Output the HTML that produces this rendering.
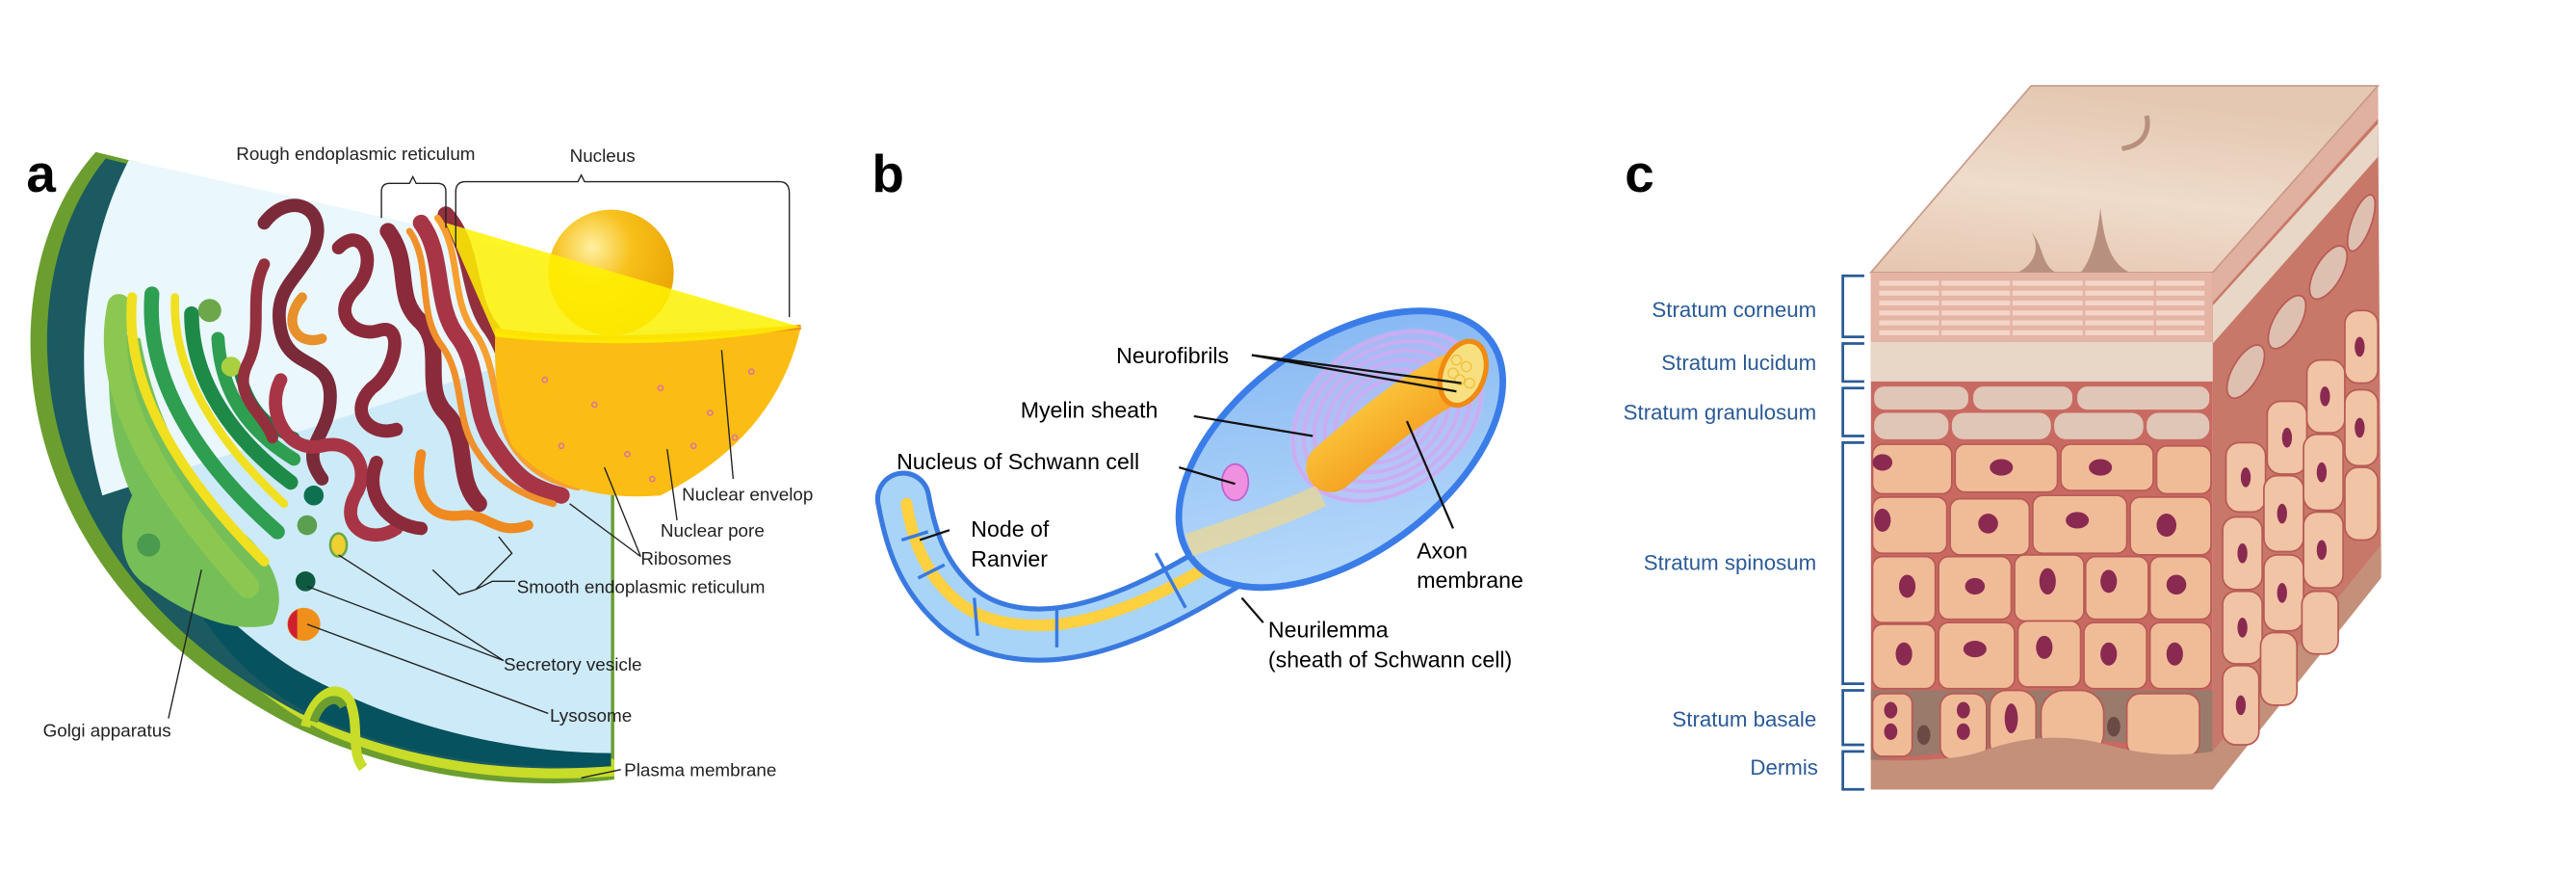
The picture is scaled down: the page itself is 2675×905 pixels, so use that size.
<!DOCTYPE html>
<html><head><meta charset="utf-8"><style>
html,body{margin:0;padding:0;background:#fff;width:2675px;height:905px;overflow:hidden}
svg{display:block}
text{font-family:"Liberation Sans",sans-serif}
</style></head><body>
<svg width="2675" height="905" viewBox="0 0 1560 528" preserveAspectRatio="none" xmlns="http://www.w3.org/2000/svg">
<defs>
<linearGradient id="axon" x1="0" y1="0" x2="1" y2="1"><stop offset="0" stop-color="#ffd84a"/><stop offset="1" stop-color="#f08a10"/></linearGradient>
<radialGradient id="nucleolus" cx="0.35" cy="0.3" r="0.8"><stop offset="0" stop-color="#fff0a0"/><stop offset="0.4" stop-color="#f7c01a"/><stop offset="1" stop-color="#e8a000"/></radialGradient>
<linearGradient id="topface" x1="0" y1="1" x2="0.3" y2="0"><stop offset="0" stop-color="#e6c6b0"/><stop offset="0.5" stop-color="#efdccb"/><stop offset="1" stop-color="#e4c8b2"/></linearGradient>
<linearGradient id="sheath" x1="0" y1="1" x2="1" y2="0"><stop offset="0" stop-color="#bfe0fb"/><stop offset="1" stop-color="#7fb2f2"/></linearGradient>
</defs>

<!-- ================= PANEL A ================= -->
<text x="16" y="116" font-size="32" font-weight="bold" fill="#000">a</text>
<path d="M58,92 C-8,165 -6,345 178,440 C250,474 320,478 372,472 L372,290 L485,198 Z" fill="#6b9e2f"/>
<path d="M100,340 C130,400 160,425 200,445 C260,470 320,474 372,470 L372,460 L120,330 Z" fill="#c8dc2a"/>
<path d="M64,96 C4,170 6,340 182,432 C252,464 318,468 370,464 L370,290 L485,198 Z" fill="#1a5a60"/>
<path d="M100,335 C130,395 160,420 200,438 C260,462 320,466 370,464 L370,300 Z" fill="#06525e"/>
<path d="M78,97 C36,180 48,320 178,405 C240,440 310,456 370,456 L370,290 L485,198 Z" fill="#cdeaf8"/>
<path d="M78,97 C50,150 42,230 62,300 L370,200 L485,198 L270,140 Z" fill="#eaf7fd"/>
<path d="M185,440 C190,420 205,412 212,425 C218,440 212,455 220,465" fill="none" stroke="#c8dc2a" stroke-width="6"/>
<path d="M190,437 C194,424 204,420 208,428" fill="none" stroke="#6b9e2f" stroke-width="5"/>
<!-- Golgi -->
<path d="M68,200 C62,240 70,280 80,300 C70,320 72,345 90,355 C110,370 140,385 165,378 C175,360 165,340 150,325 C120,300 95,260 85,205 Z" fill="#76bf58"/>
<g fill="none" stroke-linecap="round">
<path d="M72,185 C60,240 100,300 150,355" stroke="#8cc850" stroke-width="14"/>
<path d="M80,180 C75,235 110,290 160,340" stroke="#f0e020" stroke-width="6"/>
<path d="M92,178 C88,230 120,280 168,322" stroke="#2e9e50" stroke-width="9"/>
<path d="M106,180 C104,225 132,268 172,305" stroke="#f0e020" stroke-width="5"/>
<path d="M116,190 C116,230 140,265 176,292" stroke="#1e8a48" stroke-width="9"/>
<path d="M132,205 C134,240 152,262 178,278" stroke="#2e9e50" stroke-width="8"/>
<path d="M145,225 C150,245 160,258 178,265" stroke="#1a7a45" stroke-width="7"/>
</g>
<circle cx="127" cy="188" r="7" fill="#6aa84a"/>
<circle cx="140" cy="222" r="6" fill="#a8d040"/>
<circle cx="90" cy="330" r="7" fill="#4a9a50"/>
<circle cx="190" cy="300" r="6" fill="#0d7050"/>
<circle cx="186" cy="318" r="6" fill="#5aa050"/>
<!-- ER -->
<g fill="none" stroke-linecap="round" stroke-linejoin="round" stroke-width="8">
<path d="M160,135 C175,115 200,125 190,150 C180,170 165,175 170,200 C175,225 200,215 200,240 C200,265 180,270 195,290" stroke="#7a2a38"/>
<path d="M205,150 C220,135 230,160 215,175 C200,190 215,205 230,200 C245,195 240,225 225,235 C210,250 225,265 240,260" stroke="#8b2a3a"/>
<path d="M170,230 C160,250 175,275 195,270 C215,265 225,285 215,300 C205,320 225,330 240,320" stroke="#a83545"/>
<path d="M235,140 C250,160 238,180 255,195 C270,210 255,235 270,250 C285,265 275,290 290,305" stroke="#8b2a3a" stroke-width="10"/>
<path d="M255,135 C270,155 262,185 278,205 C292,225 285,250 300,270 C312,288 320,295 340,300" stroke="#a83545" stroke-width="10"/>
<path d="M270,130 C288,150 282,180 298,200 C312,220 310,250 325,270 C335,283 348,290 360,290" stroke="#93303e" stroke-width="10"/>
<path d="M248,140 C262,160 252,190 268,210 C282,230 275,255 290,275 C300,290 315,300 335,305" stroke="#f0902a" stroke-width="4"/>
<path d="M265,132 C280,152 272,182 288,202 C302,222 298,252 312,272 C322,286 335,292 350,295" stroke="#f7a030" stroke-width="4"/>
<path d="M183,180 C170,195 180,210 195,205" stroke="#e8902a" stroke-width="6"/>
<path d="M255,275 C250,300 260,315 280,312 C295,310 300,325 320,318" stroke="#ee8a20" stroke-width="6"/>
<path d="M228,280 C220,300 235,318 255,320" stroke="#8b2a3a"/>
<path d="M160,160 C150,180 160,200 150,220 C140,240 160,250 165,265" stroke="#93303e" stroke-width="7"/>
</g>
<!-- nucleus -->
<path d="M300,200 Q360,210 485,198 Q470,265 400,300 Q340,305 310,270 Q298,240 300,200 Z" fill="#fbbd13"/>
<path d="M300,200 Q360,210 485,198" fill="none" stroke="#f0901a" stroke-width="3"/>
<circle cx="370" cy="165" r="38" fill="url(#nucleolus)"/>
<path d="M270,135 L485,198 Q400,214 300,204 Z" fill="#fff200" opacity="0.85"/>
<g fill="none" stroke="#e07890" stroke-width="1">
<circle cx="330" cy="230" r="1.5"/><circle cx="360" cy="245" r="1.5"/><circle cx="400" cy="235" r="1.5"/><circle cx="430" cy="250" r="1.5"/><circle cx="455" cy="225" r="1.5"/><circle cx="340" cy="270" r="1.5"/><circle cx="380" cy="275" r="1.5"/><circle cx="420" cy="270" r="1.5"/><circle cx="445" cy="265" r="1.5"/><circle cx="395" cy="290" r="1.5"/>
</g>
<ellipse cx="205" cy="330" rx="5" ry="7" fill="#f0d030" stroke="#6aa84a" stroke-width="1.5"/>
<circle cx="185" cy="352" r="6" fill="#0d5a40"/>
<circle cx="184" cy="378" r="10" fill="#f0901a"/>
<path d="M180,369 A10,10 0 0 0 180,387" fill="#d02030"/>
<g fill="none" stroke="#222" stroke-width="0.8">
<path d="M231,132 L231,116 Q231,111 236,111 L248,111 L250,107 L252,111 L265,111 Q270,111 270,116 L270,138"/>
<path d="M276,150 L276,116 Q276,110 282,110 L350,110 L352,106 L354,110 L472,110 Q478,110 478,117 L478,192"/>
<path d="M444,290 L437,212"/>
<path d="M410,315 L404,272"/>
<path d="M388,337 L366,283 M388,337 L345,305"/>
<path d="M312,352 L298,352 L288,357 L278,360 L262,345 M288,357 L300,345 L310,335 L302,325"/>
<path d="M305,400 L205,336 M305,400 L186,355"/>
<path d="M332,432 L186,378"/>
<path d="M102,435 L122,345"/>
<path d="M376,466 L352,471"/>
</g>
<g font-size="11" fill="#222">
<text x="143" y="97">Rough endoplasmic reticulum</text>
<text x="345" y="98">Nucleus</text>
<text x="413" y="303">Nuclear envelop</text>
<text x="400" y="325">Nuclear pore</text>
<text x="388" y="342">Ribosomes</text>
<text x="313" y="359">Smooth endoplasmic reticulum</text>
<text x="305" y="406">Secretory vesicle</text>
<text x="333" y="437">Lysosome</text>
<text x="26" y="446">Golgi apparatus</text>
<text x="378" y="470">Plasma membrane</text>
</g>

<!-- ================= PANEL B ================= -->
<text x="528" y="116" font-size="32" font-weight="bold" fill="#000">b</text>
<g fill="none" stroke-linecap="round" stroke-linejoin="round">
<path d="M547,302 C552,330 560,350 580,368 C600,385 630,388 660,380 C690,372 715,358 745,340" stroke="#3a7ae0" stroke-width="34"/>
<path d="M547,302 C552,330 560,350 580,368 C600,385 630,388 660,380 C690,372 715,358 745,340" stroke="#a8d4f8" stroke-width="28"/>
<path d="M549,305 C553,330 562,350 582,366 C602,380 632,382 662,374 C692,366 717,352 747,334" stroke="#ffd040" stroke-width="7"/>
</g>
<g stroke="#3a7ae0" stroke-width="2" fill="none">
<path d="M546,327 L562,322"/><path d="M556,350 L572,342"/><path d="M590,362 L592,385"/><path d="M640,368 L640,392"/><path d="M700,335 L718,368"/>
</g>
<ellipse cx="812" cy="272" rx="112" ry="64" transform="rotate(-36 812 272)" fill="url(#sheath)" stroke="#3b7de8" stroke-width="4"/>
<g fill="none" stroke="#c8a6f2" stroke-width="2.2">
<ellipse cx="840" cy="252" rx="62" ry="45" transform="rotate(-35 840 252)"/>
<ellipse cx="840" cy="252" rx="55" ry="40" transform="rotate(-35 840 252)"/>
<ellipse cx="840" cy="252" rx="48" ry="35" transform="rotate(-35 840 252)"/>
<ellipse cx="840" cy="252" rx="41" ry="30" transform="rotate(-35 840 252)"/>
<ellipse cx="840" cy="252" rx="34" ry="25" transform="rotate(-35 840 252)"/>
<ellipse cx="840" cy="252" rx="27" ry="20" transform="rotate(-35 840 252)"/>
</g>
<ellipse cx="840" cy="252" rx="64" ry="47" transform="rotate(-35 840 252)" fill="#d4b8f6" opacity="0.35"/>
<path d="M720,330 C750,320 780,310 800,300" stroke="#ffd878" stroke-width="14" fill="none" opacity="0.6"/>
<ellipse cx="748" cy="292" rx="8" ry="11" fill="#f090e0" stroke="#c060d0" stroke-width="1"/>
<path d="M806,283 C830,262 855,240 882,228" stroke="url(#axon)" stroke-width="30" fill="none" stroke-linecap="round"/>
<ellipse cx="886" cy="226" rx="13" ry="20" transform="rotate(20 886 226)" fill="#f8e080" stroke="#f08a10" stroke-width="3"/>
<g fill="none" stroke="#f0c040" stroke-width="0.8"><circle cx="882" cy="218" r="3"/><circle cx="888" cy="222" r="3"/><circle cx="884" cy="230" r="3"/><circle cx="890" cy="232" r="3"/><circle cx="880" cy="226" r="3"/></g>
<g fill="none" stroke="#111" stroke-width="1.3">
<path d="M758,215 L885,232 M758,215 L882,237"/>
<path d="M723,252 L795,264"/>
<path d="M714,283 L748,293"/>
<path d="M575,321 L557,327"/>
<path d="M880,320 L852,255"/>
<path d="M765,377 L752,362"/>
</g>
<g font-size="13.5" fill="#000">
<text x="676" y="220">Neurofibrils</text>
<text x="618" y="253">Myelin sheath</text>
<text x="543" y="284">Nucleus of Schwann cell</text>
<text x="588" y="325">Node of</text>
<text x="588" y="343">Ranvier</text>
<text x="858" y="338">Axon</text>
<text x="858" y="356">membrane</text>
<text x="768" y="386">Neurilemma</text>
<text x="768" y="404">(sheath of Schwann cell)</text>
</g>

<!-- ================= PANEL C ================= -->
<text x="984" y="116" font-size="32" font-weight="bold" fill="#000">c</text>
<path d="M1340,165 L1440,52 L1442,345 L1340,478 Z" fill="#c87868"/>
<path d="M1340,455 L1442,330 L1442,350 L1340,478 Z" fill="#c4907a"/>
<path d="M1340,165 L1440,52 L1440,72 L1340,183 Z" fill="#e0b0a0"/>
<path d="M1340,185 L1440,75 L1440,95 L1340,208 Z" fill="#e8d6c6"/>
<g fill="#f0c4a4" stroke="#b85a55" stroke-width="1">
<ellipse cx="1360" cy="225" rx="8" ry="18" transform="rotate(30 1360 225)" fill="#ddc0b0"/>
<ellipse cx="1385" cy="195" rx="8" ry="18" transform="rotate(30 1385 195)" fill="#ddc0b0"/>
<ellipse cx="1410" cy="165" rx="8" ry="18" transform="rotate(30 1410 165)" fill="#ddc0b0"/>
<ellipse cx="1430" cy="135" rx="6" ry="18" transform="rotate(20 1430 135)" fill="#ddc0b0"/>
<rect x="1348" y="268" width="24" height="42" rx="8"/><rect x="1373" y="243" width="24" height="44" rx="8"/><rect x="1397" y="218" width="23" height="44" rx="8"/><rect x="1420" y="188" width="20" height="44" rx="8"/>
<rect x="1346" y="313" width="24" height="44" rx="8"/><rect x="1371" y="288" width="24" height="46" rx="8"/><rect x="1395" y="263" width="24" height="46" rx="8"/><rect x="1420" y="236" width="20" height="46" rx="8"/>
<rect x="1346" y="358" width="24" height="44" rx="8"/><rect x="1371" y="336" width="24" height="46" rx="8"/><rect x="1395" y="310" width="24" height="46" rx="8"/><rect x="1420" y="283" width="20" height="44" rx="8"/>
<rect x="1346" y="403" width="22" height="48" rx="8"/><rect x="1369" y="383" width="22" height="44" rx="8"/><rect x="1394" y="358" width="22" height="38" rx="8"/>
</g>
<g fill="#8a2a50"><ellipse cx="1360" cy="289" rx="3" ry="6"/><ellipse cx="1385" cy="265" rx="3" ry="6"/><ellipse cx="1408" cy="240" rx="3" ry="6"/><ellipse cx="1429" cy="210" rx="3" ry="6"/><ellipse cx="1358" cy="335" rx="3" ry="6"/><ellipse cx="1382" cy="311" rx="3" ry="6"/><ellipse cx="1406" cy="286" rx="3" ry="6"/><ellipse cx="1429" cy="259" rx="3" ry="6"/><ellipse cx="1358" cy="380" rx="3" ry="6"/><ellipse cx="1382" cy="359" rx="3" ry="6"/><ellipse cx="1406" cy="333" rx="3" ry="6"/><ellipse cx="1357" cy="427" rx="3" ry="6"/></g>
<path d="M1133,165 L1340,165 L1440,52 L1230,52 Z" fill="url(#topface)" stroke="#c89a88" stroke-width="1"/>
<path d="M1300,70 C1302,80 1298,88 1285,90" fill="none" stroke="#b89080" stroke-width="3"/>
<path d="M1230,140 C1236,150 1232,160 1222,165 L1245,165 C1236,160 1238,150 1230,140 Z" fill="#b89080"/>
<path d="M1272,126 C1270,145 1266,158 1260,165 L1290,165 C1278,160 1274,145 1272,126 Z" fill="#b89080"/>
<rect x="1133" y="165" width="207" height="313" fill="#c86a62"/>
<rect x="1133" y="165" width="207" height="42" fill="#e4b4a4"/>
<g fill="#f4d6c8">
<rect x="1138" y="170" width="197" height="3"/><rect x="1138" y="176" width="197" height="3"/><rect x="1138" y="182" width="197" height="3"/><rect x="1138" y="188" width="197" height="3"/><rect x="1138" y="194" width="197" height="3"/><rect x="1138" y="200" width="197" height="3"/>
</g>
<g stroke="#e4b4a4" stroke-width="1.5"><path d="M1175,170 v35 M1218,170 v35 M1262,170 v35 M1305,170 v35"/></g>
<rect x="1133" y="207" width="207" height="24" fill="#e8d6c6"/>
<g fill="#e0c6b6">
<rect x="1135" y="234" width="57" height="14" rx="6"/><rect x="1195" y="234" width="60" height="14" rx="6"/><rect x="1258" y="234" width="80" height="14" rx="6"/>
<rect x="1135" y="250" width="45" height="16" rx="7"/><rect x="1182" y="250" width="60" height="16" rx="7"/><rect x="1244" y="250" width="54" height="16" rx="7"/><rect x="1300" y="250" width="38" height="16" rx="7"/>
</g>
<g fill="#f0bc98" stroke="#b85a55" stroke-width="1">
<rect x="1134" y="269" width="48" height="30" rx="6"/><rect x="1184" y="269" width="62" height="29" rx="6"/><rect x="1248" y="269" width="56" height="28" rx="6"/><rect x="1306" y="270" width="33" height="29" rx="6"/>
<rect x="1134" y="301" width="45" height="34" rx="6"/><rect x="1181" y="302" width="48" height="34" rx="6"/><rect x="1231" y="300" width="57" height="35" rx="6"/><rect x="1290" y="301" width="49" height="35" rx="6"/>
<rect x="1134" y="337" width="38" height="40" rx="6"/><rect x="1174" y="337" width="44" height="38" rx="6"/><rect x="1220" y="336" width="42" height="40" rx="6"/><rect x="1263" y="337" width="38" height="38" rx="6"/><rect x="1302" y="337" width="37" height="38" rx="6"/>
<rect x="1134" y="378" width="38" height="39" rx="6"/><rect x="1174" y="377" width="46" height="40" rx="6"/><rect x="1222" y="376" width="38" height="40" rx="6"/><rect x="1262" y="377" width="38" height="40" rx="6"/><rect x="1302" y="377" width="37" height="40" rx="6"/>
</g>
<path d="M1133,418 L1340,418 L1340,458 Q1260,440 1190,455 L1133,460 Z" fill="#9a7a6a"/>
<g fill="#f0bc98" stroke="#b85a55" stroke-width="1">
<rect x="1134" y="420" width="24" height="38" rx="6"/><rect x="1175" y="420" width="28" height="40" rx="8"/><rect x="1205" y="418" width="28" height="42" rx="10"/><rect x="1236" y="418" width="38" height="40" rx="14"/><rect x="1288" y="420" width="44" height="38" rx="8"/>
</g>
<path d="M1133,460 Q1180,462 1200,455 Q1240,440 1280,452 Q1310,460 1340,455 L1340,478 L1133,478 Z" fill="#c4907a"/>
<g fill="#8a2a50">
<ellipse cx="1140" cy="280" rx="6" ry="5"/><ellipse cx="1212" cy="283" rx="7" ry="5"/><ellipse cx="1272" cy="283" rx="7" ry="5"/>
<ellipse cx="1140" cy="315" rx="5" ry="7"/><ellipse cx="1204" cy="317" rx="6" ry="6"/><ellipse cx="1258" cy="315" rx="7" ry="5"/><ellipse cx="1312" cy="318" rx="6" ry="7"/>
<ellipse cx="1155" cy="355" rx="5" ry="7"/><ellipse cx="1196" cy="355" rx="6" ry="5"/><ellipse cx="1240" cy="352" rx="5" ry="8"/><ellipse cx="1277" cy="352" rx="5" ry="7"/><ellipse cx="1318" cy="354" rx="6" ry="6"/>
<ellipse cx="1153" cy="396" rx="5" ry="7"/><ellipse cx="1196" cy="393" rx="7" ry="5"/><ellipse cx="1238" cy="392" rx="5" ry="7"/><ellipse cx="1277" cy="396" rx="5" ry="7"/><ellipse cx="1317" cy="396" rx="5" ry="7"/>
<ellipse cx="1145" cy="430" rx="4" ry="5"/><ellipse cx="1145" cy="443" rx="4" ry="5"/><ellipse cx="1189" cy="430" rx="4" ry="5"/><ellipse cx="1189" cy="443" rx="4" ry="5"/><ellipse cx="1218" cy="435" rx="4" ry="9"/>
</g>
<g fill="#6a4a44"><ellipse cx="1165" cy="445" rx="4" ry="6"/><ellipse cx="1280" cy="440" rx="4" ry="6"/></g>
<g fill="none" stroke="#2a5a96" stroke-width="1.6">
<path d="M1129,167 L1116,167 L1116,204 L1129,204"/>
<path d="M1129,208 L1116,208 L1116,231 L1129,231"/>
<path d="M1129,235 L1116,235 L1116,264 L1129,264"/>
<path d="M1129,268 L1116,268 L1116,414 L1129,414"/>
<path d="M1129,418 L1116,418 L1116,451 L1129,451"/>
<path d="M1129,455 L1116,455 L1116,478 L1129,478"/>
</g>
<g font-size="13" fill="#2a5a96" text-anchor="end">
<text x="1100" y="192">Stratum corneum</text>
<text x="1100" y="224">Stratum lucidum</text>
<text x="1100" y="254">Stratum granulosum</text>
<text x="1100" y="345">Stratum spinosum</text>
<text x="1100" y="440">Stratum basale</text>
<text x="1101" y="469">Dermis</text>
</g>
</svg>
</body></html>
